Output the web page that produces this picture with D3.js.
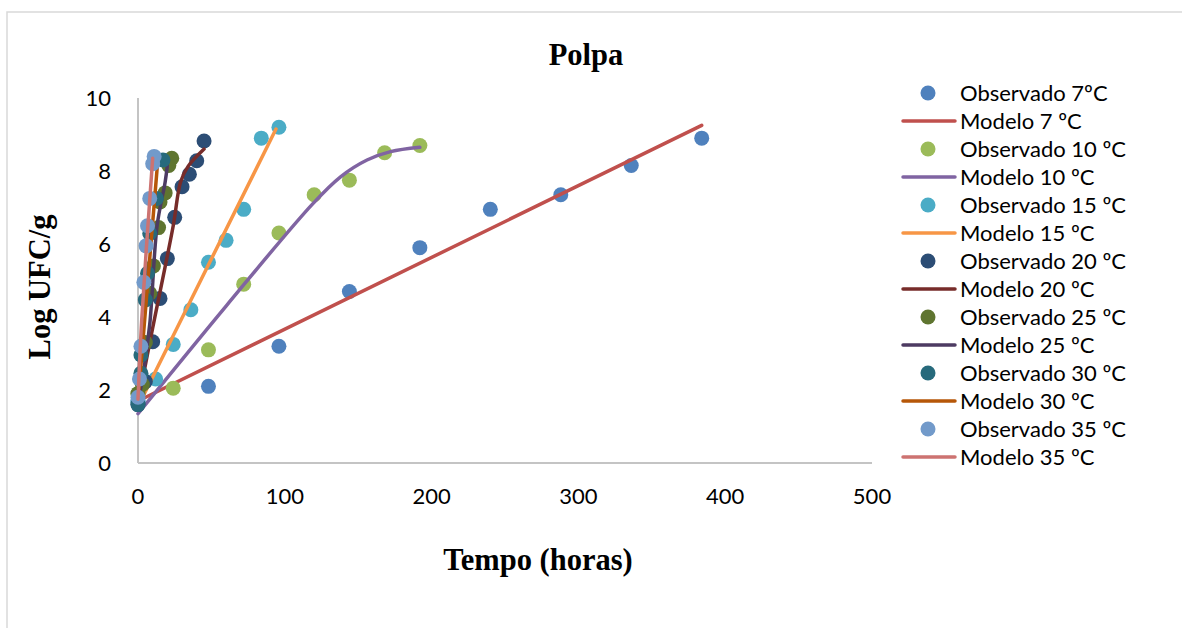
<!DOCTYPE html>
<html>
<head>
<meta charset="utf-8">
<script src="https://cdn.jsdelivr.net/npm/d3@7/dist/d3.min.js"></script>
<style>
  body { margin: 0; background: #fff; }
  .tick-label { font-family: Lato, "Open Sans", sans-serif; font-size: 22px; fill: #000; }
  .legend-label { font-family: Lato, "Open Sans", sans-serif; font-size: 22px; fill: #000; }
  .axis-title { font-family: "Liberation Serif", "Times New Roman", serif; font-weight: bold; font-size: 30.5px; fill: #000; }
</style>
</head>
<body>
<div id="chart"></div>
<script>
// Observed points [hours, log UFC/g] and model curves, per temperature
const obs7 = [[0,1.7],[48,2.1],[96,3.2],[144,4.7],[192,5.9],[240,6.95],[288,7.35],[336,8.15],[384,8.9]];
const mod7 = [[0,1.7],[384,9.25]];

const obs10 = [[0,1.9],[24,2.05],[48,3.1],[72,4.9],[96,6.3],[120,7.35],[144,7.75],[168,8.5],[192,8.7]];
const mod10 = [[0,1.35],[60,4.3],[119,7.1],[138,7.84],[156,8.3],[172,8.53],[192,8.65]];

const obs15 = [[0,1.7],[12,2.3],[24,3.25],[36,4.2],[48,5.5],[60,6.1],[72,6.95],[84,8.9],[96,9.2]];
const mod15 = [[0,1.55],[94,9.15]];

const obs20 = [[0,1.6],[5,2.23],[10,3.32],[15,4.51],[20,5.6],[25,6.73],[30,7.57],[35,7.91],[40,8.28],[45,8.82]];
const mod20 = [[0,1.65],[10,3.7],[24,6.5],[29,7.7],[34,8.12],[45,8.6]];

const obs25 = [[0,1.9],[3,2.15],[5,3.3],[8,4.65],[10.5,5.4],[14,6.45],[15,7.15],[18.5,7.4],[21,8.15],[23,8.35]];
const mod25 = [[0,1.7],[3,2.3],[8,3.8],[13,6.5],[18.5,7.7],[20,8.15]];

const obs30 = [[0,1.6],[2,2.46],[2,2.96],[5,4.47],[6.5,5.2],[8,6.29],[12.5,7.25],[17,8.3]];
const mod30 = [[0,1.7],[13.5,8.3]];

const obs35 = [[0,1.8],[1,2.3],[2,3.2],[4,4.95],[5.5,5.95],[6.5,6.5],[8,7.25],[10,8.2],[11,8.4]];
const mod35 = [[0,1.75],[2.5,3.9],[10,8.35]];

const xTicks = [0, 100, 200, 300, 400, 500];
const yTicks = [0, 2, 4, 6, 8, 10];

const seriesNames = ["Observado 7ºC", "Modelo 7 ºC", "Observado 10 ºC", "Modelo 10 ºC",
  "Observado 15 ºC", "Modelo 15 ºC", "Observado 20 ºC", "Modelo 20 ºC",
  "Observado 25 ºC", "Modelo 25 ºC", "Observado 30 ºC", "Modelo 30 ºC",
  "Observado 35 ºC", "Modelo 35 ºC"];
const seriesColors = ["#4F81BD", "#C0504D", "#9BBB59", "#8064A2", "#4BACC6", "#F79646",
  "#2C4D75", "#772C2A", "#5F7530", "#4D3B62", "#276A7C", "#B65708", "#729ACA", "#CD7371"];
const seriesData = [obs7, mod7, obs10, mod10, obs15, mod15, obs20, mod20, obs25, mod25, obs30, mod30, obs35, mod35];

const width = 1182, height = 628;

const svg = d3.select("#chart").append("svg")
  .attr("width", width)
  .attr("height", height);

// chart frame
svg.append("rect")
  .attr("x", 7).attr("y", 12)
  .attr("width", 1200).attr("height", 660)
  .attr("fill", "#fff")
  .attr("stroke", "#d9d9d9")
  .attr("stroke-width", 1.5);

const x = d3.scaleLinear().domain([0, 500]).range([138, 872]);
const y = d3.scaleLinear().domain([0, 10]).range([463, 98]);

// axis lines
svg.append("line")
  .attr("x1", x(0)).attr("x2", x(0))
  .attr("y1", y(10)).attr("y2", y(0))
  .attr("stroke", "#c4c4c4").attr("stroke-width", 2);
svg.append("line")
  .attr("x1", x(0)).attr("x2", x(500))
  .attr("y1", y(0)).attr("y2", y(0))
  .attr("stroke", "#c4c4c4").attr("stroke-width", 2);

// tick labels
svg.selectAll(".ytick")
  .data(yTicks)
  .enter().append("text")
  .attr("class", "tick-label")
  .attr("x", 111)
  .attr("y", d => y(d))
  .attr("dy", "0.36em")
  .attr("text-anchor", "end")
  .text(d => d);

svg.selectAll(".xtick")
  .data(xTicks)
  .enter().append("text")
  .attr("class", "tick-label")
  .attr("x", d => x(d))
  .attr("y", 504)
  .attr("text-anchor", "middle")
  .text(d => d);

// titles
svg.append("text")
  .attr("class", "axis-title")
  .attr("x", 586).attr("y", 65)
  .attr("text-anchor", "middle")
  .text("Polpa");

svg.append("text")
  .attr("class", "axis-title")
  .attr("x", 538).attr("y", 570)
  .attr("text-anchor", "middle")
  .text("Tempo (horas)");

svg.append("text")
  .attr("class", "axis-title")
  .attr("transform", "translate(50, 287) rotate(-90)")
  .attr("text-anchor", "middle")
  .text("Log UFC/g");

// series, drawn in Excel order (later series on top)
const line = d3.line()
  .x(d => x(d[0]))
  .y(d => y(d[1]))
  .curve(d3.curveCatmullRom.alpha(0.5));

seriesData.forEach((data, i) => {
  if (i % 2 === 1) {
    svg.append("path")
      .datum(data)
      .attr("d", line)
      .attr("fill", "none")
      .attr("stroke", seriesColors[i])
      .attr("stroke-width", 3.5)
      .attr("stroke-linecap", "round");
  } else {
    svg.append("g").selectAll("circle")
      .data(data)
      .enter().append("circle")
      .attr("cx", d => x(d[0]))
      .attr("cy", d => y(d[1]))
      .attr("r", 7.5)
      .attr("fill", seriesColors[i]);
  }
});

// legend
const legend = svg.append("g");
const rows = legend.selectAll("g")
  .data(seriesNames)
  .enter().append("g")
  .attr("transform", (d, i) => `translate(0, ${93 + i * 28})`);

rows.each(function (d, i) {
  const g = d3.select(this);
  if (i % 2 === 1) {
    g.append("line")
      .attr("x1", 903).attr("x2", 955)
      .attr("y1", 0).attr("y2", 0)
      .attr("stroke", seriesColors[i])
      .attr("stroke-width", 3.5)
      .attr("stroke-linecap", "round");
  } else {
    g.append("circle")
      .attr("cx", 928).attr("cy", 0)
      .attr("r", 7.5)
      .attr("fill", seriesColors[i]);
  }
  g.append("text")
    .attr("class", "legend-label")
    .attr("x", 960)
    .attr("y", 0)
    .attr("dy", "0.36em")
    .text(d);
});
</script>
</body>
</html>
